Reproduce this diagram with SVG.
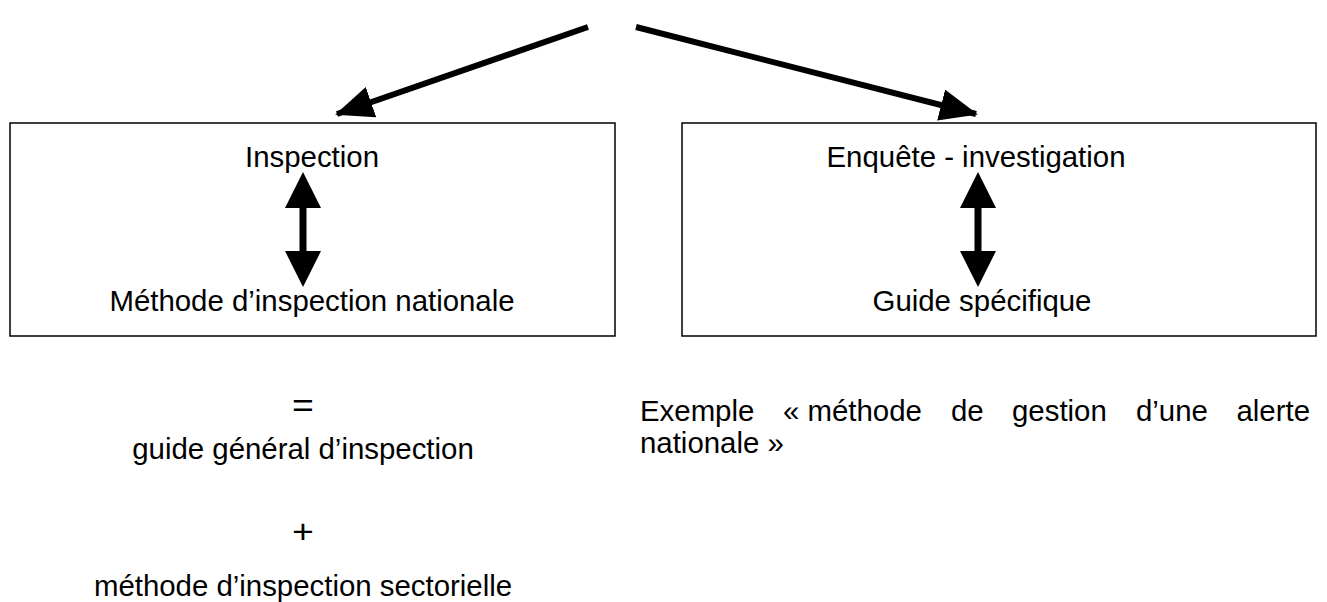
<svg xmlns="http://www.w3.org/2000/svg" width="1327" height="602" viewBox="0 0 1327 602">
<style>
text{font-family:"Liberation Sans",Arial,sans-serif;font-size:30px;fill:#000}
.c{text-anchor:middle}
.e{text-anchor:end}
.op{font-size:34px}
.box{fill:#fff;stroke:#000;stroke-width:1.5}
.ln{stroke:#000;stroke-width:6;fill:none}
</style>
<defs>
<marker id="ah" viewBox="0 0 38 32" refX="36" refY="16" markerWidth="38" markerHeight="32" markerUnits="userSpaceOnUse" orient="auto">
<path d="M0,0 L38,16 L0,32 z" fill="#000"/>
</marker>
</defs>
<rect width="1327" height="602" fill="#fff"/>
<g id="box-inspection">
<rect class="box" x="10" y="123" width="605" height="213"/>
<text class="c" transform="translate(312 167) scale(0.98 1)">Inspection</text>
<text class="c" transform="translate(312 311) scale(0.98 1)">Méthode d’inspection nationale</text>
</g>
<g id="box-enquete">
<rect class="box" x="682" y="123" width="634" height="213"/>
<text class="c" transform="translate(976 167) scale(0.98 1)">Enquête - investigation</text>
<text class="c" transform="translate(982 311) scale(0.98 1)">Guide spécifique</text>
</g>
<g id="connectors">
<line class="ln" x1="588" y1="27" x2="337" y2="114" marker-end="url(#ah)"/>
<line class="ln" x1="636" y1="27" x2="976" y2="114" marker-end="url(#ah)"/>
<path d="M303,172 L321,208 L306.5,208 L306.5,251 L321,251 L303,287 L285,251 L299.5,251 L299.5,208 L285,208 Z" fill="#000"/>
<path d="M978,172 L996,208 L981.5,208 L981.5,251 L996,251 L978,287 L960,251 L974.5,251 L974.5,208 L960,208 Z" fill="#000"/>
</g>
<g id="formula">
<text class="c op" transform="translate(303 417) scale(1.1 1)">=</text>
<text class="c" transform="translate(303 459) scale(0.98 1)">guide général d’inspection</text>
<text class="c op" transform="translate(303 543) scale(1.1 1)">+</text>
<text class="c" transform="translate(303 596) scale(0.98 1)">méthode d’inspection sectorielle</text>
</g>
<g id="exemple">
<text transform="translate(640 421) scale(0.98 1)">Exemple</text>
<text transform="translate(783 421) scale(0.98 1)">« méthode</text>
<text transform="translate(951 421) scale(0.98 1)">de</text>
<text transform="translate(1012 421) scale(0.98 1)">gestion</text>
<text transform="translate(1136 421) scale(0.98 1)">d’une</text>
<text class="e" transform="translate(1310 421) scale(0.98 1)">alerte</text>
<text transform="translate(640 453) scale(0.98 1)">nationale »</text>
</g>
</svg>
